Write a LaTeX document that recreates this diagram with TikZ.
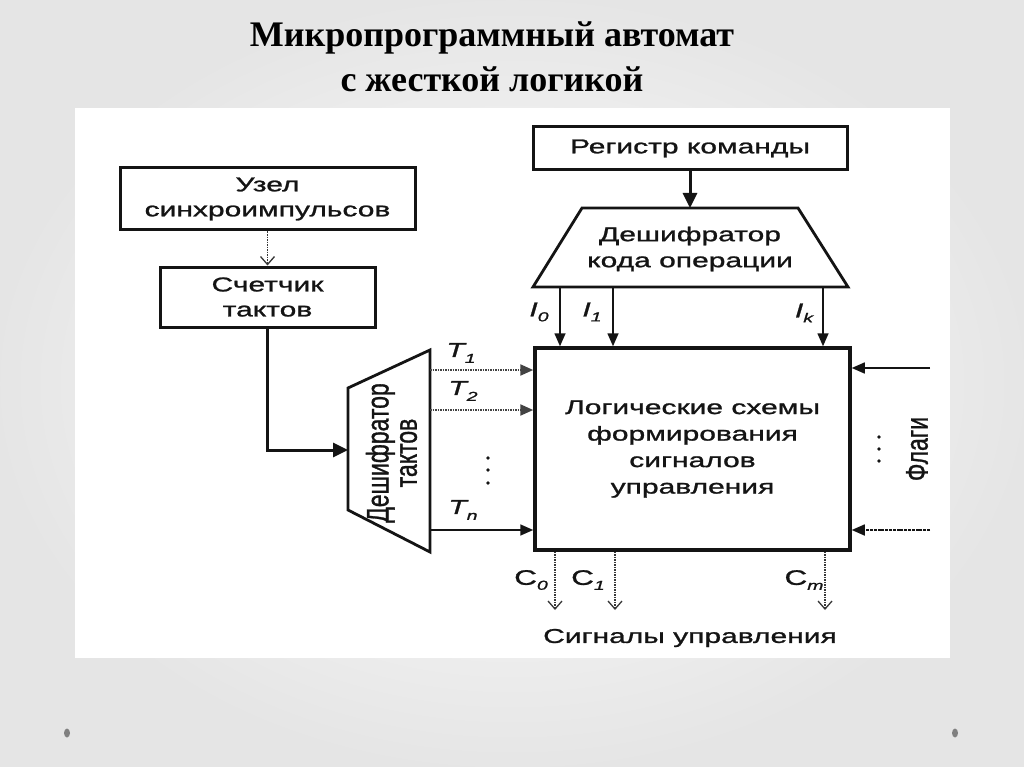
\documentclass[tikz,border=0pt]{standalone}
\usepackage{fontspec}
\usepackage{graphicx}
\setmainfont{Liberation Serif}
\newfontfamily\dfont[FakeStretch=1.5,FakeBold=1.2]{Liberation Sans}
\newfontfamily\rfont[FakeBold=1.2]{Liberation Sans}
\usetikzlibrary{arrows.meta}
\definecolor{ink}{HTML}{141414}
\begin{document}
\begin{tikzpicture}[x=1pt,y=-1pt,
  box/.style={draw=ink, line width=3pt, inner sep=0pt, align=center,
    font=\dfont\fontsize{20}{25}\selectfont, text=ink},
  lab/.style={inner sep=0pt, align=center, text=ink,
    font=\dfont\fontsize{20}{26}\selectfont},
  sig/.style={inner sep=0pt, text=ink, font=\dfont\itshape\fontsize{20}{22}\selectfont},
  ttl/.style={anchor=base, text=black, font=\bfseries\fontsize{36}{45}\selectfont},
  fat/.style={draw=ink, line width=3pt, -{Triangle[length=15pt,width=14pt]}},
  thin/.style={draw=ink, line width=1.6pt, -{Triangle[length=13pt,width=11pt]}},
  dots/.style={draw=ink!80, line width=2.2pt, dash pattern=on 1.5pt off 1pt, -{Triangle[length=13pt,width=11pt]}},
  opn/.style={draw=ink!85, line width=1.3pt, dash pattern=on 1.5pt off 1pt, -{Straight Barb[length=8pt,width=14pt,line width=1.3pt]}},
  dot/.style={fill=ink, circle, inner sep=0pt, minimum size=3.8pt}
]
\useasboundingbox (0,0) rectangle (1024,767);
\shade[inner color=white, outer color=black!10] (0,0) rectangle (1024,767);
\fill[white] (75,108) rectangle (950,658);

% title
\node[ttl] (title1) at (492,47) {Микропрограммный автомат};
\node[ttl] (title2) at (492,92) {с жесткой логикой};

% boxes
\node[box, minimum width=295pt, minimum height=62pt] (uzel) at (267.5,199) {Узел\\синхроимпульсов};
\node[box, minimum width=215pt, minimum height=60pt] (sch) at (267.5,297) {Счетчик\\тактов};
\node[box, minimum width=314pt, minimum height=43pt] (rk) at (690,148.5) {Регистр команды};
\node[box, line width=3.5pt, minimum width=315pt, minimum height=202pt, font=\dfont\fontsize{20}{26.5}\selectfont] (main) at (692.5,449)
  {Логические схемы\\формирования\\сигналов\\управления};

% trapezoid: decoder of opcode
\draw[ink, line width=2.8pt, line join=miter] (582,208) -- (798,208) -- (848,287) -- (533,287) -- cycle;
\node[lab] (dko) at (690,249) {Дешифратор\\кода операции};
\coordinate (dkotop) at (690,208);
% trapezoid: clock decoder
\draw[ink, line width=2.8pt, line join=miter] (348,388) -- (430,350) -- (430,552) -- (348,510) -- cycle;
\node[inner sep=0pt, text=ink, rotate=90] (dt) at (396,453)
  {\scalebox{1}[1.35]{\rfont\fontsize{23}{23}\selectfont\begin{tabular}{@{}c@{}}Дешифратор\\[-2pt]тактов\end{tabular}}};
\coordinate (dtin) at (348,450);

% connectors
\draw[opn] (uzel.south) -- (sch.north);
\draw[fat] (sch.south) |- (dtin);
\draw[fat] (rk.south) -- (dkotop);

\coordinate (i0) at (560,287);
\coordinate (i1) at (613,287);
\coordinate (ik) at (823,287);
\draw[thin] (i0) -- (i0 |- main.north);
\draw[thin] (i1) -- (i1 |- main.north);
\draw[thin] (ik) -- (ik |- main.north);
\node[sig] (li0) at (539,312) {I\raisebox{-5pt}{\fontsize{13}{13}\selectfont 0}};
\node[sig] (li1) at (592,312) {I\raisebox{-5pt}{\fontsize{13}{13}\selectfont 1}};
\node[sig] (lik) at (804,313) {I\raisebox{-5pt}{\fontsize{13}{13}\selectfont k}};

\coordinate (t1) at (430,370);
\coordinate (t2) at (430,410);
\coordinate (tn) at (430,530);
\draw[dots] (t1) -- (t1 -| main.west);
\draw[dots] (t2) -- (t2 -| main.west);
\draw[thin] (tn) -- (tn -| main.west);
\node[sig] (lt1) at (461,353) {T\raisebox{-6pt}{\fontsize{13}{13}\selectfont 1}};
\node[sig] (lt2) at (463,391) {T\raisebox{-6pt}{\fontsize{13}{13}\selectfont 2}};
\node[sig] (ltn) at (463,510) {T\raisebox{-6pt}{\fontsize{13}{13}\selectfont n}};
\node[dot] (td1) at (488,458) {};
\node[dot] (td2) at (488,470) {};
\node[dot] (td3) at (488,483) {};

\coordinate (f1) at (930,368);
\coordinate (f2) at (930,530);
\draw[thin] (f1) -- (f1 -| main.east);
\draw[thin, dash pattern=on 3pt off 0.8pt] (f2) -- (f2 -| main.east);
\node[dot] (fd1) at (879,437) {};
\node[dot] (fd2) at (879,449) {};
\node[dot] (fd3) at (879,461) {};
\node[inner sep=0pt, text=ink, rotate=90] (flags) at (917,449)
  {\scalebox{1}[1.35]{\rfont\fontsize{23}{23}\selectfont Флаги}};

\coordinate (c0) at (555,610);
\coordinate (c1) at (615,610);
\coordinate (cm) at (825,610);
\draw[opn] (c0 |- main.south) -- (c0);
\draw[opn] (c1 |- main.south) -- (c1);
\draw[opn] (cm |- main.south) -- (cm);
\node[sig, font=\dfont\fontsize{21}{22}\selectfont] (lc0) at (531,580) {C\raisebox{-5pt}{\itshape\fontsize{13}{13}\selectfont 0}};
\node[sig, font=\dfont\fontsize{21}{22}\selectfont] (lc1) at (588,580) {C\raisebox{-5pt}{\itshape\fontsize{13}{13}\selectfont 1}};
\node[sig, font=\dfont\fontsize{21}{22}\selectfont] (lcm) at (804,580) {C\raisebox{-5pt}{\itshape\fontsize{13}{13}\selectfont m}};
\node[lab] (su) at (690,638) {Сигналы управления};

% slide bullets
\fill[black!50] (67,733) ellipse (3pt and 4.5pt);
\fill[black!50] (955,733) ellipse (3pt and 4.5pt);
\end{tikzpicture}
\end{document}
